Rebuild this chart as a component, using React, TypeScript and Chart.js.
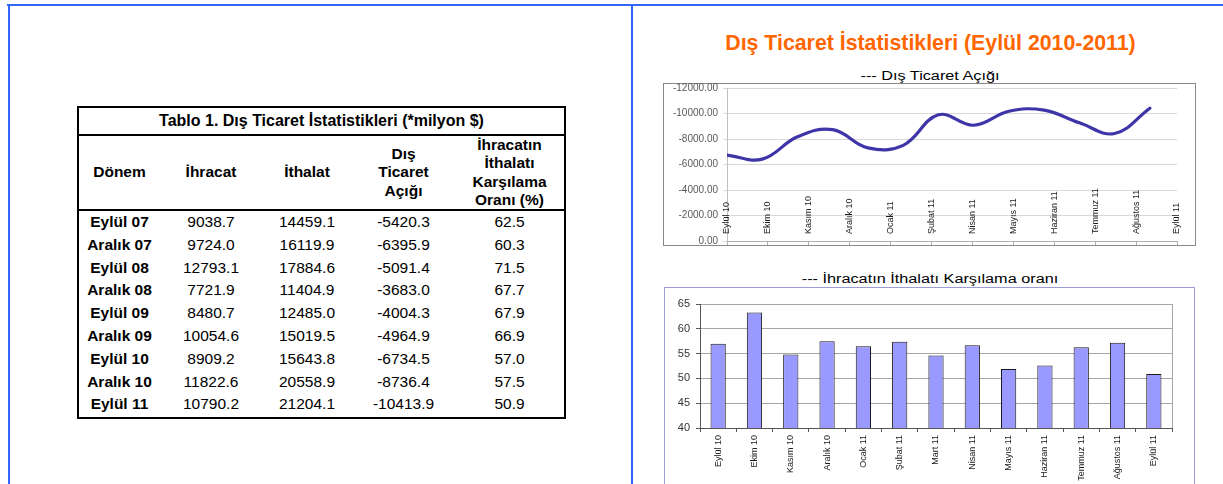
import React, { useEffect, useRef } from "react";
import { Chart, registerables } from "chart.js";

Chart.register(...registerables);

const FONT = '"Liberation Sans", Arial, sans-serif';
Chart.defaults.font.family = FONT;

// ---- Table data (Tablo 1) ----
const tablePeriods = ["Eylül 07", "Aralık 07", "Eylül 08", "Aralık 08", "Eylül 09", "Aralık 09", "Eylül 10", "Aralık 10", "Eylül 11"];
const tableExports = [9038.7, 9724.0, 12793.1, 7721.9, 8480.7, 10054.6, 8909.2, 11822.6, 10790.2];
const tableImports = [14459.1, 16119.9, 17884.6, 11404.9, 12485.0, 15019.5, 15643.8, 20558.9, 21204.1];
const tableDeficit = [-5420.3, -6395.9, -5091.4, -3683.0, -4004.3, -4964.9, -6734.5, -8736.4, -10413.9];
const tableCoverage = [62.5, 60.3, 71.5, 67.7, 67.9, 66.9, 57.0, 57.5, 50.9];

// ---- Line chart: Dış Ticaret Açığı ----
const lineAxisLabels = ["Eylül 10", "Ekim 10", "Kasım 10", "Aralık 10", "Ocak 11", "Şubat 11", "Nisan 11", "Mayıs 11", "Haziran 11", "Temmuz 11", "Ağustos 11", "Eylül 11"];
const deficitMonthly = [-6734.5, -6420, -8170, -8736.4, -7300, -7500, -9900, -9080, -10180, -10260, -9270, -8430, -10413.9];

// ---- Bar chart: İhracatın İthalatı Karşılama oranı ----
const barLabels = ["Eylül 10", "Ekim 10", "Kasım 10", "Aralık 10", "Ocak 11", "Şubat 11", "Mart 11", "Nisan 11", "Mayıs 11", "Haziran 11", "Temmuz 11", "Ağustos 11", "Eylül 11"];
const coverageMonthly = [57.0, 63.3, 54.8, 57.5, 56.5, 57.4, 54.6, 56.7, 51.9, 52.6, 56.3, 57.2, 50.9];

const insideLabelsPlugin = {
  id: "insideLabels",
  afterDraw(chart: any) {
    const xl = chart.scales.xl;
    const y = chart.scales.y;
    const ctx = chart.ctx;
    const base = y.getPixelForValue(0) - 7;
    ctx.save();
    ctx.font = `9px ${FONT}`;
    ctx.fillStyle = "#1a1a1a";
    ctx.textAlign = "left";
    ctx.textBaseline = "middle";
    lineAxisLabels.forEach((lab, i) => {
      const x = xl.getPixelForTick(i);
      ctx.save();
      ctx.translate(x, base);
      ctx.rotate(-Math.PI / 2);
      ctx.fillText(lab, 0, 0);
      ctx.restore();
    });
    ctx.restore();
  },
};

const plotFramePlugin = {
  id: "plotFrame",
  beforeDraw(chart: any) {
    const { left, top, right, bottom } = chart.chartArea;
    const ctx = chart.ctx;
    ctx.save();
    ctx.strokeStyle = "#a6a6a6";
    ctx.lineWidth = 1;
    ctx.strokeRect(Math.round(left) + 0.5, Math.round(top) + 0.5, Math.round(right - left), Math.round(bottom - top));
    ctx.restore();
  },
};

const fmt1 = (v: number) => v.toFixed(1);

export default function App() {
  const lineRef = useRef<HTMLCanvasElement>(null);
  const barRef = useRef<HTMLCanvasElement>(null);

  useEffect(() => {
    const lineChart = new Chart(lineRef.current as HTMLCanvasElement, {
      type: "line",
      data: {
        datasets: [
          {
            data: deficitMonthly.map((v, i) => ({ x: i, y: v })),
            borderColor: "#3d35a8",
            borderWidth: 3.2,
            borderCapStyle: "round",
            pointRadius: 0,
            tension: 0.4,
            fill: false,
            xAxisID: "x",
            yAxisID: "y",
          },
        ],
      },
      options: {
        animation: false,
        responsive: false,
        maintainAspectRatio: false,
        layout: { padding: { left: 0, right: 17, top: 12, bottom: 0 } },
        plugins: { legend: { display: false }, tooltip: { enabled: false } },
        scales: {
          x: { type: "linear", display: false, min: 0, max: 12.77 },
          xl: {
            type: "category",
            labels: lineAxisLabels,
            offset: false,
            position: "bottom",
            grid: { drawOnChartArea: false, drawTicks: true, tickLength: 4, color: "#b0b0b0" },
            border: { color: "#b0b0b0" },
            ticks: { display: false },
            afterFit: (s: any) => {
              s.height = 4;
            },
          },
          y: {
            reverse: true,
            min: -12000,
            max: 0,
            ticks: {
              stepSize: 2000,
              callback: (v: any) => Number(v).toFixed(2),
              font: { size: 10, family: FONT },
              color: "#595959",
              padding: 5,
            },
            grid: { color: "#d9d9d9", tickLength: 4 },
            border: { color: "#bfbfbf" },
            afterFit: (s: any) => {
              s.width = 63;
            },
          },
        },
      } as any,
      plugins: [insideLabelsPlugin],
    });

    const barChart = new Chart(barRef.current as HTMLCanvasElement, {
      type: "bar",
      data: {
        labels: barLabels,
        datasets: [
          {
            data: coverageMonthly,
            backgroundColor: "#9999ff",
            borderColor: "#1a1a1a",
            borderWidth: 1,
            barPercentage: 0.42,
            categoryPercentage: 1,
          },
        ],
      },
      options: {
        animation: false,
        responsive: false,
        maintainAspectRatio: false,
        layout: { padding: { left: 0, right: 21, top: 16, bottom: 0 } },
        plugins: { legend: { display: false }, tooltip: { enabled: false } },
        scales: {
          x: {
            grid: { drawOnChartArea: false, tickLength: 4, color: "#555", offset: true },
            border: { color: "#555" },
            ticks: { font: { size: 9, family: FONT }, color: "#1a1a1a", maxRotation: 90, minRotation: 90, padding: 3, autoSkip: false },
            afterFit: (s: any) => {
              s.height = 56;
            },
          },
          y: {
            min: 40,
            max: 65,
            ticks: { stepSize: 5, font: { size: 11, family: FONT }, color: "#333", padding: 6 },
            grid: { color: "#a6a6a6", tickColor: "#555", tickLength: 4 },
            border: { color: "#555" },
            afterFit: (s: any) => {
              s.width = 35;
            },
          },
        },
      } as any,
      plugins: [plotFramePlugin],
    });

    return () => {
      lineChart.destroy();
      barChart.destroy();
    };
  }, []);

  const cols = [
    { l: 0, w: 81 },
    { l: 81, w: 102 },
    { l: 183, w: 90 },
    { l: 273, w: 103 },
    { l: 376, w: 109 },
  ];
  const rowH = 22.8;
  const headerTexts: React.ReactNode[] = [
    "Dönem",
    "İhracat",
    "İthalat",
    <>Dış<br />Ticaret<br />Açığı</>,
    <>İhracatın<br />İthalatı<br />Karşılama<br />Oranı (%)</>,
  ];

  const abs = (o: React.CSSProperties): React.CSSProperties => ({ position: "absolute", ...o });

  return (
    <div style={abs({ left: 0, top: 0, width: 1223, height: 484, overflow: "hidden", fontFamily: FONT, background: "#fff" })}>
      {/* page frame lines */}
      <div style={abs({ left: 7, top: 4, width: 1216, height: 2, background: "#3366ff" })} />
      <div style={abs({ left: 8, top: 4, width: 2, height: 480, background: "#3366ff" })} />
      <div style={abs({ left: 631, top: 4, width: 2, height: 480, background: "#3366ff" })} />

      {/* table */}
      <div style={abs({ left: 77, top: 106, width: 489, height: 313, border: "2px solid #000", boxSizing: "border-box", color: "#000" })}>
        <div style={abs({ left: 0, top: 0, width: 485, height: 28, borderBottom: "2px solid #000", boxSizing: "border-box", textAlign: "center", fontWeight: "bold", fontSize: 16, lineHeight: "26px" })}>
          Tablo 1. Dış Ticaret İstatistikleri (*milyon $)
        </div>
        <div style={abs({ left: 0, top: 28, width: 485, height: 75, borderBottom: "2px solid #000", boxSizing: "border-box" })}>
          {headerTexts.map((t, i) => (
            <div key={i} style={abs({ left: cols[i].l, top: 0, width: cols[i].w, height: 73, display: "flex", alignItems: "center", justifyContent: "center", textAlign: "center", fontWeight: "bold", fontSize: 15.5, lineHeight: "18.5px" })}>
              <div>{t}</div>
            </div>
          ))}
        </div>
        {tablePeriods.map((p, r) => {
          const cells = [p, fmt1(tableExports[r]), fmt1(tableImports[r]), fmt1(tableDeficit[r]), fmt1(tableCoverage[r])];
          return cells.map((c, i) => (
            <div key={r + "-" + i} style={abs({ left: cols[i].l, top: 103 + r * rowH, width: cols[i].w, height: rowH, lineHeight: rowH + "px", textAlign: "center", fontSize: 15.5, fontWeight: i === 0 ? "bold" : "normal", whiteSpace: "nowrap" })}>
              {c}
            </div>
          ));
        })}
      </div>

      {/* right side titles */}
      <div style={abs({ left: 930.5, top: 31, transform: "translateX(-50%)", whiteSpace: "nowrap", color: "#ff6600", fontWeight: "bold", fontSize: 21.3, lineHeight: "24px" })}>
        Dış Ticaret İstatistikleri (Eylül 2010-2011)
      </div>
      <div style={abs({ left: 930, top: 69, transform: "translateX(-50%) scaleX(1.3)", whiteSpace: "nowrap", color: "#000", fontSize: 12.5, lineHeight: "15px" })}>
        --- Dış Ticaret Açığı
      </div>
      <div style={abs({ left: 930, top: 272, transform: "translateX(-50%) scaleX(1.3)", whiteSpace: "nowrap", color: "#000", fontSize: 12.5, lineHeight: "15px" })}>
        --- İhracatın İthalatı Karşılama oranı
      </div>

      {/* line chart frame + canvas */}
      <div style={abs({ left: 663, top: 83, width: 533, height: 163, border: "1px solid #888", boxSizing: "border-box" })} />
      <canvas ref={lineRef} width={530} height={176} style={abs({ left: 664, top: 76, width: 530, height: 176 })} />

      {/* bar chart frame + canvas */}
      <div style={abs({ left: 664, top: 287, width: 531, height: 230, border: "1px solid #9c9cd6", boxSizing: "border-box" })} />
      <canvas ref={barRef} width={528} height={196} style={abs({ left: 665, top: 288, width: 528, height: 196 })} />
    </div>
  );
}
